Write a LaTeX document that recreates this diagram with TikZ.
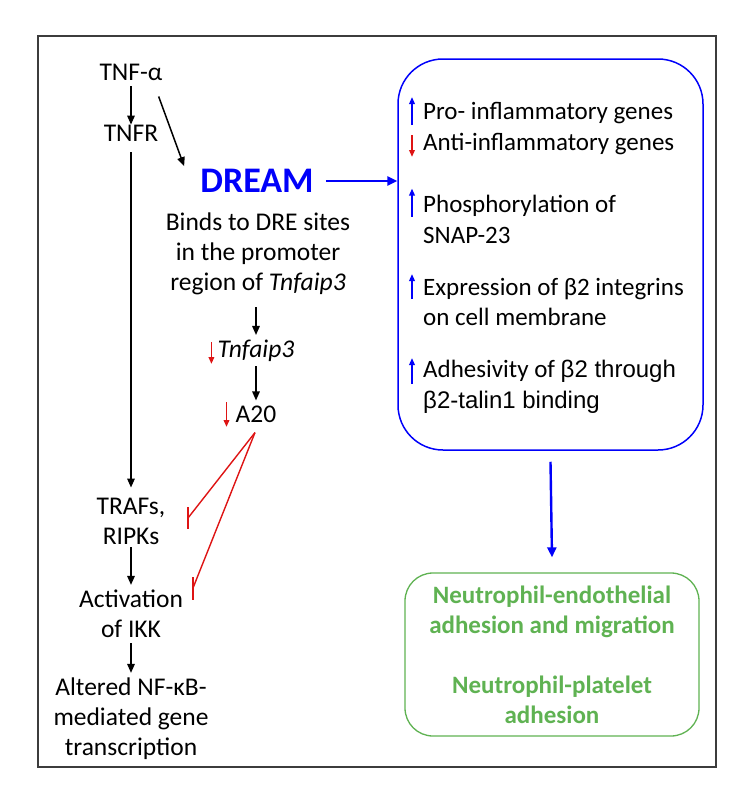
\documentclass[tikz,border=0pt]{standalone}
\usepackage{fontspec}
\setmainfont{Carlito}
\newfontfamily\arialf{Liberation Sans}
\usetikzlibrary{arrows.meta,calc}
\definecolor{dblue}{RGB}{0,0,250}
\definecolor{dred}{RGB}{222,20,20}
\definecolor{dgreen}{RGB}{95,178,82}
\definecolor{dframe}{RGB}{60,60,60}
\begin{document}
\begin{tikzpicture}[x=1pt,y=-1pt,
  txt/.style={font=\fontsize{25.5}{30}\selectfont, align=center, inner sep=0pt},
  rtxt/.style={font=\fontsize{25}{30.5}\selectfont, align=left, inner sep=0pt, anchor=west},
  arr/.style={-{Triangle[length=9pt,width=7.5pt]}, line width=1.5pt},
  barr/.style={-{Triangle[length=10pt,width=9pt]}, line width=2.4pt, dblue},
  upm/.style={-{Triangle[length=7pt,width=5.5pt]}, line width=1.8pt, dblue},
  downm/.style={-{Triangle[length=7pt,width=5.5pt]}, line width=1.8pt, dred},
  inh/.style={dred, line width=1.4pt},
]
\useasboundingbox (0,0) rectangle (750,798);
\draw[dframe, line width=2pt] (38,36) rectangle (716,767);

% left column
\node[txt] (tnfa) at (131,72) {TNF-α};
\node[txt] (tnfr) at (131,133) {TNFR};
\node[font=\fontsize{36}{42}\selectfont\bfseries, text=dblue, inner sep=0pt] (dream) at (257,181) {DREAM};
\node[txt] (binds) at (258,254) {Binds to DRE sites\\in the promoter\\region of \textit{Tnfaip3}};
\node[txt] (tnf3) at (256,351) {\textit{Tnfaip3}};
\node[txt] (a20) at (256,414) {A20};
\node[txt] (trafs) at (131,521) {TRAFs,\\RIPKs};
\node[txt] (ikk) at (131,614) {Activation\\of IKK};
\node[txt] (nfkb) at (131,719) {Altered NF-κB-\\mediated gene\\transcription};

\draw[arr] ($(tnfa.south)+(0,6)$) -- (tnfr);
\draw[arr] ($(tnfa.south east)+(-4,16)$) -- ($(dream.north west)+(-16,-3)$);
\draw[arr] ($(tnfr.south)+(0,11)$) -- ($(trafs.north)+(0,-10)$);
\draw[arr] ($(tnf3.north |- binds.south)+(0,12)$) -- ($(tnf3.north)+(0,-5)$);
\draw[arr] ($(tnf3.south)+(0,4)$) -- ($(a20.north)+(0,-5)$);
\draw[arr] ($(trafs.south)+(0,3)$) -- ($(ikk.north)+(0,-5)$);
\draw[arr] ($(ikk.south)+(0,5)$) -- ($(nfkb.north)+(0,-5)$);

\draw[downm] ($(tnf3.west)+(-6,-9)$) -- ($(tnf3.west)+(-6,13)$);
\draw[downm] ($(a20.west)+(-9,-12)$) -- ($(a20.west)+(-9,13)$);

% inhibition
\coordinate (inh1) at (188,518);
\coordinate (inh2) at (193,588);
\draw[inh] ($(a20.south)+(-1,10)$) -- (inh1);
\draw[inh] ($(inh1)+(0,-11)$) -- ($(inh1)+(0,11)$);
\draw[inh] ($(a20.south)+(-1,10)$) -- (inh2);
\draw[inh] ($(inh2)+(0,-11)$) -- ($(inh2)+(0,12)$);

% right box
\node[draw=dblue, line width=1.5pt, rounded corners=45pt, minimum width=305pt, minimum height=391pt, inner sep=0pt] (box) at (550.5,254.5) {};
\draw[barr] ($(dream.east)+(12,0)$) -- (box.west |- dream.east);

\node[rtxt] (pro) at (423,113) {Pro- inflammatory genes};
\node[rtxt] (anti) at (423,144) {Anti-inflammatory genes};
\node[rtxt] (phos) at (423,219.5) {Phosphorylation of\\SNAP-23};
\node[rtxt] (expr) at (423,302) {Expression of β2 integrins\\on cell membrane};
\node[rtxt] (adh) at (423,387) {Adhesivity of {\arialf\fontsize{24}{30.5}\selectfont β2 through}\\{\arialf\fontsize{24}{30.5}\selectfont β2-talin1 binding}};

\draw[upm] ($(pro.west)+(-11,12)$) -- ($(pro.west)+(-11,-16)$);
\draw[downm] ($(anti.west)+(-11,-9)$) -- ($(anti.west)+(-11,13)$);
\draw[upm] ($(phos.west)+(-11,-3)$) -- ($(phos.west)+(-11,-31)$);
\draw[upm] ($(expr.west)+(-11,-3)$) -- ($(expr.west)+(-11,-28)$);
\draw[upm] ($(adh.west)+(-11,-3)$) -- ($(adh.west)+(-11,-29)$);

% green box
\node[draw=dgreen, line width=1.3pt, rounded corners=28pt, minimum width=294pt, minimum height=163pt, inner sep=0pt,
  font=\fontsize{25}{30}\selectfont\bfseries, text=dgreen, align=center] (out) at (552,654.5)
  {Neutrophil-endothelial\\adhesion and migration\\[30pt]Neutrophil-platelet\\adhesion};
\draw[barr] ($(box.south)+(0,11)$) -- ($(out.north)+(0,-15)$);
\end{tikzpicture}
\end{document}
